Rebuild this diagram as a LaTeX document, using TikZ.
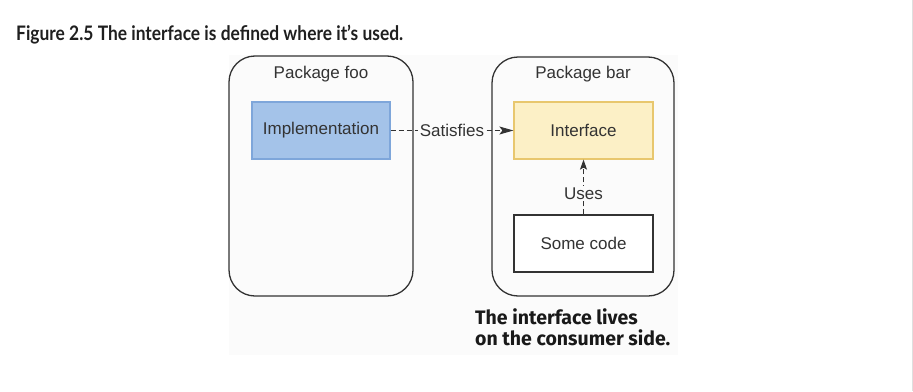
\documentclass[tikz,border=0pt]{standalone}
\usepackage{fontspec}
\setmainfont{Liberation Sans}
\newfontfamily\titlefont{Lato}[FakeStretch=0.87]
\newfontfamily\notefont{Fira Sans}
\usetikzlibrary{arrows.meta}
\definecolor{implfill}{HTML}{A4C3E9}
\definecolor{impldraw}{HTML}{7EA6DA}
\definecolor{ifacefill}{HTML}{FCF0C6}
\definecolor{ifacedraw}{HTML}{E8C76E}
\definecolor{ink}{HTML}{333333}
\definecolor{figbg}{HTML}{FBFBFB}
\tikzset{
  pkg/.style={draw=ink, line width=1.3pt, rounded corners=26pt, inner sep=0pt},
  boxlabel/.style={font=\fontsize{17}{20}\selectfont, text=ink, inner sep=0pt},
  impl/.style={draw=impldraw, fill=implfill, line width=1.2pt, inner sep=0pt,
    minimum width=138pt, minimum height=57pt, font=\fontsize{17}{20}\selectfont, text=ink},
  iface/.style={draw=ifacedraw, fill=ifacefill, line width=1.2pt, inner sep=0pt,
    minimum width=139pt, minimum height=57pt, font=\fontsize{17}{20}\selectfont, text=ink},
  codebox/.style={draw=ink, fill=white, line width=1.3pt, inner sep=0pt,
    minimum width=139pt, minimum height=57pt, font=\fontsize{17}{20}\selectfont, text=ink},
  link/.style={draw=ink, line width=1.1pt, dash pattern=on 5pt off 3pt,
    -{Stealth[length=14pt, width=8pt, inset=3pt]}},
  linklabel/.style={fill=figbg, inner sep=1.5pt, font=\fontsize{17}{20}\selectfont, text=ink}
}
\begin{document}
\begin{tikzpicture}[x=1pt, y=-1pt]
  \useasboundingbox (0,0) rectangle (913,391);
  \fill[white] (0,0) rectangle (913,391);
  % light backdrop of the figure panel
  \fill[figbg] (229,55) rectangle (678,355);
  % thin page edge on the right
  \draw[gray!25, line width=1pt] (912,0) -- (912,391);

  % caption
  \node[anchor=base west, inner sep=0pt, text=black!88,
        font=\titlefont\bfseries\fontsize{20}{23}\selectfont] (caption) at (16,40.5)
    {Figure 2.5 The interface is defined where it’s used.};

  % packages
  \node[pkg, minimum width=184pt, minimum height=240pt] (foo) at (321,176) {};
  \node[pkg, minimum width=182pt, minimum height=239pt] (bar) at (583,176.5) {};
  \node[boxlabel] (foolabel) at (321,74) {Package foo};
  \node[boxlabel] (barlabel) at (583,74) {Package bar};

  % types
  \node[impl] (impl) at (321,130.5) {Implementation};
  \node[iface] (iface) at (583.5,130.5) {Interface};
  \node[codebox] (code) at (583.5,243.5) {Some code};

  % relations
  \draw[link] (impl.east) -- node[linklabel] (sat) {Satisfies} (iface.west);
  \draw[link, -{Stealth[length=10pt, width=7pt, inset=2pt]}] (code.north) -- node[linklabel, pos=0.38] (uses) {Uses} (iface.south);

  % note under the diagram (base anchor sits on the last line)
  \node[anchor=base west, align=left, inner sep=0pt, text=black!90,
        font=\notefont\bfseries\fontsize{19.5}{21}\selectfont] (note) at (475,345)
    {The interface lives\\on the consumer side.};
\end{tikzpicture}
\end{document}
